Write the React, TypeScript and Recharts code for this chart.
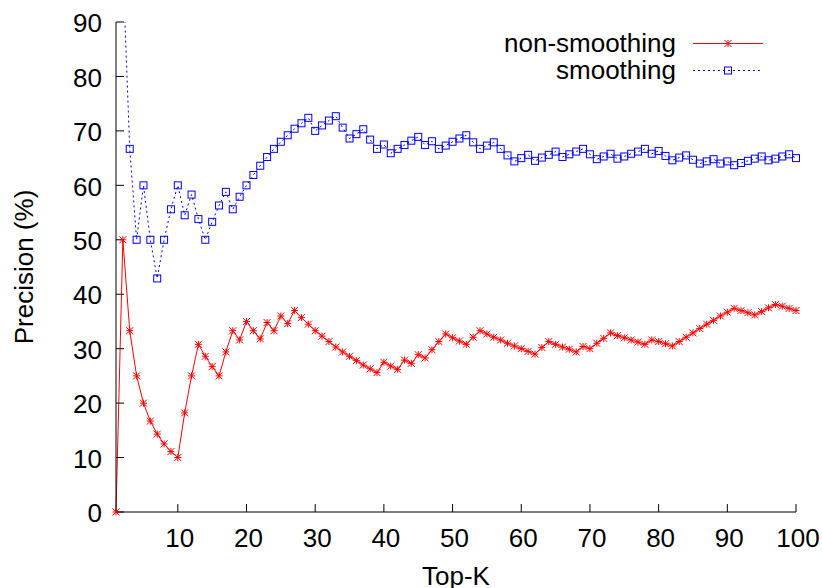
import React from 'react'
import { LineChart, Line, XAxis, YAxis, Legend } from 'recharts'

// Top-K positions (x axis)
const topK = [
  1, 2, 3, 4, 5, 6, 7, 8, 9, 10, 11, 12, 13, 14, 15, 16, 17, 18, 19, 20,
  21, 22, 23, 24, 25, 26, 27, 28, 29, 30, 31, 32, 33, 34, 35, 36, 37, 38, 39, 40,
  41, 42, 43, 44, 45, 46, 47, 48, 49, 50, 51, 52, 53, 54, 55, 56, 57, 58, 59, 60,
  61, 62, 63, 64, 65, 66, 67, 68, 69, 70, 71, 72, 73, 74, 75, 76, 77, 78, 79, 80,
  81, 82, 83, 84, 85, 86, 87, 88, 89, 90, 91, 92, 93, 94, 95, 96, 97, 98, 99, 100
]

// precision (%)
const nonSmoothing = [
  0, 50, 33.3, 25, 20, 16.7, 14.3, 12.5, 11.1, 10,
  18.2, 25, 30.8, 28.6, 26.7, 25, 29.4, 33.3, 31.6, 35,
  33.3, 31.8, 34.8, 33.3, 36, 34.6, 37, 35.7, 34.5, 33.3,
  32.3, 31.3, 30.3, 29.4, 28.6, 27.8, 27, 26.3, 25.6, 27.5,
  26.8, 26.2, 27.9, 27.3, 28.9, 28.3, 29.8, 31.3, 32.7, 32,
  31.4, 30.8, 32.1, 33.3, 32.7, 32.1, 31.6, 31, 30.5, 30,
  29.5, 29, 30.2, 31.3, 30.8, 30.3, 29.9, 29.4, 30.4, 30,
  31, 31.9, 32.9, 32.4, 32, 31.6, 31.2, 30.8, 31.6, 31.3,
  30.9, 30.5, 31.3, 32.1, 32.9, 33.7, 34.5, 35.2, 36, 36.7,
  37.4, 37, 36.6, 36.2, 36.8, 37.5, 38.1, 37.8, 37.4, 37
]

// precision (%)
const smoothing = [
  100, 100, 66.7, 50, 60, 50, 42.9, 50, 55.6, 60,
  54.5, 58.3, 53.8, 50, 53.3, 56.3, 58.8, 55.6, 57.9, 60,
  61.9, 63.6, 65.2, 66.7, 68, 69.2, 70.4, 71.4, 72.4, 70,
  71, 71.9, 72.7, 70.6, 68.6, 69.4, 70.3, 68.4, 66.7, 67.5,
  65.9, 66.7, 67.4, 68.2, 68.9, 67.4, 68.1, 66.7, 67.3, 68,
  68.6, 69.2, 67.9, 66.7, 67.3, 67.9, 66.7, 65.5, 64.4, 65,
  65.6, 64.5, 65.1, 65.6, 66.2, 65.2, 65.7, 66.2, 66.7, 65.7,
  64.8, 65.3, 65.8, 64.9, 65.3, 65.8, 66.2, 66.7, 65.8, 66.3,
  65.4, 64.6, 65.1, 65.5, 64.7, 64, 64.4, 64.8, 64, 64.4,
  63.7, 64.1, 64.5, 64.9, 65.3, 64.6, 64.9, 65.3, 65.7, 65
]

const xTicks = [10, 20, 30, 40, 50, 60, 70, 80, 90, 100]
const yTicks = [0, 10, 20, 30, 40, 50, 60, 70, 80, 90]

const data = topK.map((k, i) => ({
  k,
  nonSmoothing: nonSmoothing[i],
  smoothing: smoothing[i]
}))

const RED = '#ff0000'
const BLUE = '#0000ff'
const FONT = '"Liberation Sans", Arial, Helvetica, sans-serif'

function Star({ cx, cy, r = 3.5 }: any) {
  if (cx == null || cy == null) return null
  return (
    <g stroke={RED} strokeWidth={1}>
      <line x1={cx - r} y1={cy} x2={cx + r} y2={cy} />
      <line x1={cx} y1={cy - r} x2={cx} y2={cy + r} />
      <line x1={cx - r} y1={cy - r} x2={cx + r} y2={cy + r} />
      <line x1={cx - r} y1={cy + r} x2={cx + r} y2={cy - r} />
    </g>
  )
}

function Box({ cx, cy, r = 3.5 }: any) {
  if (cx == null || cy == null) return null
  return (
    <rect x={cx - r} y={cy - r} width={2 * r} height={2 * r}
      fill='none' stroke={BLUE} strokeWidth={1} />
  )
}

function YTitle({ viewBox }: any) {
  const cy = viewBox ? viewBox.y + viewBox.height / 2 : 267
  return (
    <text x={24} y={cy} transform={`rotate(-90 24 ${cy})`} textAnchor='middle'
      dominantBaseline='central' fontSize={26} fill='#000'>
      Precision (%)
    </text>
  )
}

function KeyBox() {
  return (
    <svg width={822} height={90} style={{ display: 'block', fontFamily: FONT }}>
      <text x={676} y={51.5} textAnchor='end' fontSize={26} fill='#000'>non-smoothing</text>
      <line x1={693} y1={43.5} x2={763} y2={43.5} stroke={RED} strokeWidth={1} />
      <Star cx={728} cy={43.5} />
      <text x={676} y={79} textAnchor='end' fontSize={26} fill='#000'>smoothing</text>
      <line x1={693} y1={70.5} x2={763} y2={70.5} stroke={BLUE} strokeWidth={1} strokeDasharray='2 3' />
      <Box cx={728} cy={70.5} />
    </svg>
  )
}

const tickStyle = { fill: '#000', fontSize: 26 }

export default function App() {
  return (
    <div style={{ position: 'absolute', left: 0, top: 0 }}>
      <LineChart
        width={822}
        height={588}
        data={data}
        margin={{ top: 22, right: 26, left: 0, bottom: 0 }}
        style={{ fontFamily: FONT }}
      >
        <XAxis
          dataKey='k'
          type='number'
          domain={[1, 100]}
          ticks={xTicks}
          interval={0}
          height={76}
          tickSize={-8}
          tickMargin={25}
          tick={{ ...tickStyle, dx: 2 }}
          axisLine={{ stroke: '#000' }}
          tickLine={{ stroke: '#000' }}
          label={{ value: 'Top-K', position: 'insideBottom', offset: 3, fill: '#000', fontSize: 26 }}
        />
        <XAxis
          xAxisId='top'
          orientation='top'
          type='number'
          domain={[1, 100]}
          ticks={xTicks}
          interval={0}
          height={0}
          tickSize={-8}
          tick={false}
          allowDataOverflow
          axisLine={{ stroke: '#000' }}
          tickLine={{ stroke: '#000' }}
        />
        <YAxis
          type='number'
          domain={[0, 90]}
          ticks={yTicks}
          interval={0}
          width={116}
          tickSize={-8}
          tickMargin={22}
          allowDataOverflow
          tick={{ ...tickStyle, dy: 1 }}
          axisLine={{ stroke: '#000' }}
          tickLine={{ stroke: '#000' }}
          label={<YTitle />}
        />
        <YAxis
          yAxisId='right'
          orientation='right'
          type='number'
          domain={[0, 90]}
          ticks={yTicks}
          interval={0}
          width={0}
          tickSize={-8}
          tick={false}
          axisLine={{ stroke: '#000' }}
          tickLine={{ stroke: '#000' }}
        />
        <Legend
          layout='vertical'
          align='center'
          verticalAlign='middle'
          wrapperStyle={{ left: 0, top: 0, width: 822, height: 90 }}
          content={<KeyBox />}
        />
        <Line
          yAxisId='right'
          dataKey='nonSmoothing'
          stroke={RED}
          strokeWidth={1}
          dot={(p: any) => <Star key={`r${p.index}`} cx={p.cx} cy={p.cy} />}
          activeDot={false}
          isAnimationActive={false}
        />
        <Line
          dataKey='smoothing'
          stroke={BLUE}
          strokeWidth={1}
          strokeDasharray='2 3'
          dot={(p: any) => <Box key={`b${p.index}`} cx={p.cx} cy={p.cy} />}
          activeDot={false}
          isAnimationActive={false}
        />
      </LineChart>
    </div>
  )
}
